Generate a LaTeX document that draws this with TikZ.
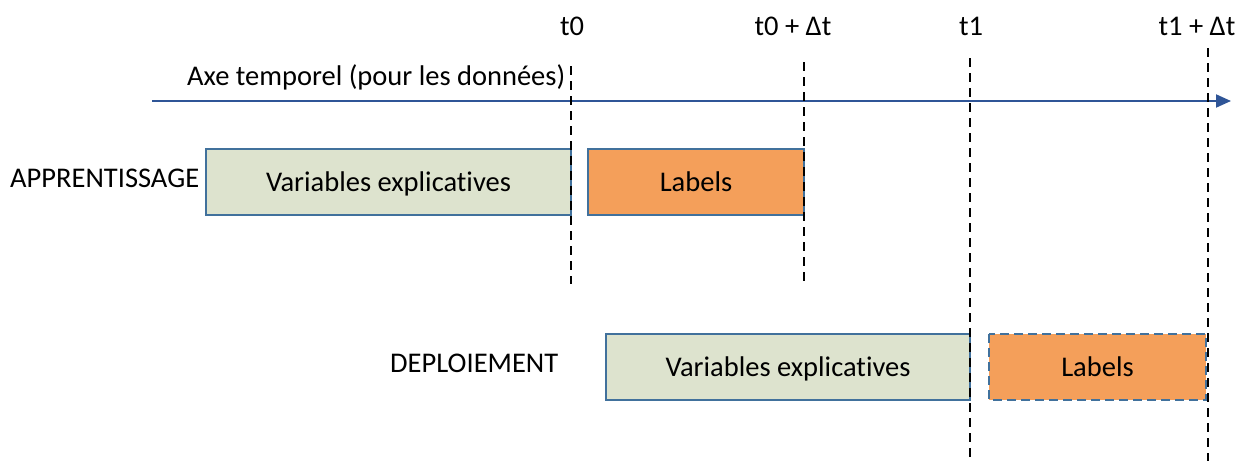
\documentclass[tikz,border=0pt]{standalone}
\usepackage{fontspec}
\setmainfont{Carlito}[RawFeature={-liga;-clig;-dlig}]
\usetikzlibrary{arrows.meta}
\definecolor{boxgreen}{HTML}{DDE3CE}
\definecolor{boxorange}{HTML}{F49F5A}
\definecolor{edgeblue}{HTML}{41719C}
\definecolor{axisblue}{HTML}{2F5597}
\tikzset{
  txt/.style={font=\fontsize{28.5}{33}\selectfont, inner sep=0pt},
  stepbox/.style={draw=edgeblue, line width=1.5pt, inner sep=0pt},
  varbox/.style={stepbox, fill=boxgreen},
  labbox/.style={stepbox, fill=boxorange},
  guide/.style={black, line width=1.5pt, dash pattern=on 9pt off 6pt},
  axis/.style={axisblue, line width=2pt, -{Triangle[length=15pt,width=13pt]}}
}
\begin{document}
\begin{tikzpicture}[x=1pt,y=-1pt]
\useasboundingbox (0,0) rectangle (1237,461);
% boxes
\draw[varbox] (206,149) rectangle (571,215);
\draw[labbox] (588,149) rectangle (804,215);
\draw[varbox] (606,334) rectangle (970,400);
\draw[labbox, dash pattern=on 9pt off 5pt] (989,334) rectangle (1206,400);
% box texts
\node[txt, anchor=base] (v1) at (388.5,191) {Variables explicatives};
\node[txt, anchor=base] (l1) at (696,191) {Labels};
\node[txt, anchor=base] (v2) at (788,376) {Variables explicatives};
\node[txt, anchor=base] (l2) at (1097.5,376) {Labels};
% axis
\coordinate (ax0) at (152,101);
\coordinate (ax1) at (1231,101);
\draw[axis] (ax0) -- (ax1);
% dashed guides
\coordinate (g0a) at (571,66); \coordinate (g0b) at (571,284);
\coordinate (g1a) at (804,62); \coordinate (g1b) at (804,284);
\coordinate (g2a) at (970,58); \coordinate (g2b) at (970,461);
\coordinate (g3a) at (1208,48); \coordinate (g3b) at (1208,461);
\draw[guide] (g0a) -- (g0b);
\draw[guide] (g1a) -- (g1b);
\draw[guide] (g2a) -- (g2b);
\draw[guide] (g3a) -- (g3b);
% time labels
\node[txt, anchor=base] (t0) at (572,35) {t0};
\node[txt, anchor=base] (t0d) at (793,35) {t0 + Δt};
\node[txt, anchor=base] (t1) at (971,35) {t1};
\node[txt, anchor=base] (t1d) at (1197,35) {t1 + Δt};
% other labels
\node[txt, anchor=base west] (axe) at (187,85) {Axe temporel (pour les données)};
\node[txt, anchor=base west] (app) at (10,187) {APPRENTISSAGE};
\node[txt, anchor=base west] (dep) at (390,372) {DEPLOIEMENT};
\end{tikzpicture}
\end{document}
